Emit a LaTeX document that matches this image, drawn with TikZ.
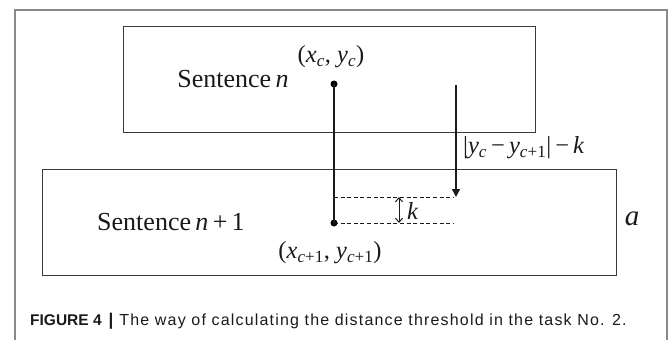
\documentclass[tikz,border=0pt]{standalone}
\usepackage{fontspec}
\setmainfont{Liberation Serif}
\newfontfamily\capfont{Liberation Sans}
\newfontfamily\capwide[LetterSpace=7.4]{Liberation Sans}
\usetikzlibrary{arrows.meta}
\definecolor{framegray}{HTML}{8A8A8A}
\definecolor{boxgray}{HTML}{3A3A3A}
\definecolor{inkc}{HTML}{1A1A1A}
\tikzset{
  sbox/.style={draw=boxgray, line width=1.3pt},
  lbl/.style={inner sep=0pt, text=inkc, font=\fontsize{26}{28}\selectfont},
  mlbl/.style={inner sep=0pt, text=inkc, font=\fontsize{24.5}{26}\selectfont},
  dotn/.style={circle, fill=black, inner sep=0pt, minimum size=7pt},
  dashline/.style={dashed, dash pattern=on 4pt off 2.6pt, line width=0.9pt, draw=inkc},
}
\newcommand{\iv}[1]{\textit{#1}}
\begin{document}
\begin{tikzpicture}[x=1pt,y=-1pt]
\useasboundingbox (0,0) rectangle (669,340);
% outer frame
\draw[framegray, line width=1.2pt] (15,340) -- (15,10) -- (667,10) -- (667,340);
% boxes
\node[sbox, minimum width=412pt, minimum height=106pt, inner sep=0pt, anchor=north west] (top) at (123,26) {};
\node[sbox, minimum width=574pt, minimum height=106pt, inner sep=0pt, anchor=north west] (bot) at (42,169) {};
% labels
\node[lbl] (sn) at (233,79) {Sentence\,\iv{n}};
\node[lbl] (sn1) at (171,222) {Sentence\,\iv{n}\,+\,1};
\node[mlbl] (pc) at (331,57) {(\iv{x}\textsubscript{\iv{c}}, \iv{y}\textsubscript{\iv{c}})};
\node[mlbl] (pc1) at (330,253) {(\iv{x}\textsubscript{\iv{c}+1}, \iv{y}\textsubscript{\iv{c}+1})};
\node[mlbl, anchor=west] (dl) at (463,148) {|\iv{y}\textsubscript{\iv{c}}\,\textminus\,\iv{y}\textsubscript{\iv{c}+1}|\,\textminus\,\iv{k}};
\node[inner sep=0pt, text=inkc, font=\fontsize{29}{30}\selectfont] (a) at (632,219) {\iv{a}};
% points
\node[dotn] (c) at (334,84) {};
\node[dotn] (c1) at (334,223) {};
\draw[inkc, line width=1.5pt] (c.center) -- (c1.center);
% dashed levels
\coordinate (d1s) at (334,197);
\coordinate (d1e) at (454,197);
\coordinate (d2e) at (454,223);
\draw[dashline] (d1s) -- (d1e);
\draw[dashline] (c1.center) -- (d2e);
% arrow
\coordinate (as) at (456,85);
\coordinate (ae) at (456,197);
\draw[inkc, line width=1.3pt, -{Triangle[length=8pt,width=8pt]}] (as) -- (ae);
% k
\coordinate (k1) at (399,197);
\coordinate (k2) at (399,223);
\draw[inkc, line width=1pt, {Straight Barb[length=4pt,width=7pt]}-{Straight Barb[length=4pt,width=7pt]}] (k1) -- (k2);
\node[mlbl, anchor=west] (k) at (407,211) {\iv{k}};
% caption
\node[inner sep=0pt, anchor=west, text=inkc] (cap) at (30,321) {\capfont\fontsize{15.5}{17}\selectfont\textbf{FIGURE 4}\hspace{7pt}{\fontsize{17}{17}\selectfont\bfseries|}\hspace{6pt}\capwide\fontsize{16}{17}\selectfont The way of calculating the distance threshold in the task No. 2.};
\end{tikzpicture}
\end{document}
